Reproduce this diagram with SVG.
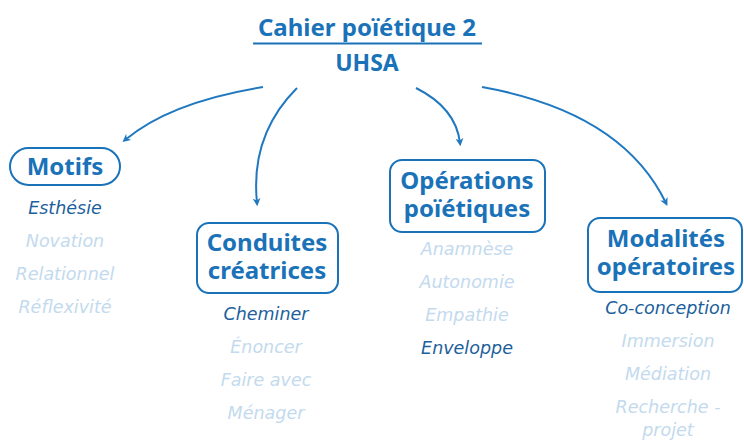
<svg xmlns="http://www.w3.org/2000/svg" width="744" height="441" viewBox="0 0 744 441">
<style>
.t{font-family:"Noto Sans","Liberation Sans",sans-serif;font-weight:bold;fill:#1a72b8;text-anchor:middle}
.h{font-family:"Noto Sans","Liberation Sans",sans-serif;font-weight:bold;font-size:24px;fill:#1a72b8;text-anchor:middle}
.box{fill:#fff;stroke:#1a72b8;stroke-width:2}
.i{font-family:"DejaVu Sans","Noto Sans",sans-serif;font-style:italic;font-size:17.5px;text-anchor:middle}
.d{fill:#1d5f9c}
.l{fill:#c3daee}
.c{fill:none;stroke:#2079c0;stroke-width:2;marker-end:url(#ah)}
</style>
<defs>
<marker id="ah" viewBox="0 0 10 10" refX="6" refY="5" markerWidth="4" markerHeight="4" orient="auto" markerUnits="strokeWidth">
<path d="M0,0 L10,5 L0,10 L3,5 z" fill="#2079c0"/>
</marker>
</defs>
<rect width="744" height="441" fill="#fff"/>
<g id="title">
<text class="t" x="367" y="36" font-size="24">Cahier poïétique 2</text>
<line x1="253" y1="43.5" x2="482" y2="43.5" stroke="#1a72b8" stroke-width="2"/>
<text class="t" x="367" y="71" font-size="23">UHSA</text>
</g>
<g id="connectors">
<path class="c" d="M263,87 Q170,102 125,140"/>
<path class="c" d="M297,88 Q250,135 257,203"/>
<path class="c" d="M416,88 Q456,108 460,143"/>
<path class="c" d="M482,87 Q622,112 666,203"/>
</g>
<g id="motifs">
<rect class="box" x="10" y="148" width="110" height="37" rx="18.5"/>
<text class="h" x="65" y="175">Motifs</text>
<text class="i d" x="65" y="214">Esthésie</text>
<text class="i l" x="65" y="247">Novation</text>
<text class="i l" x="65" y="280">Relationnel</text>
<text class="i l" x="65" y="313">Réflexivité</text>
</g>
<g id="conduites">
<rect class="box" x="197" y="223" width="141" height="70" rx="12"/>
<text class="h" x="267" y="251">Conduites</text>
<text class="h" x="267" y="279">créatrices</text>
<text class="i d" x="266" y="320">Cheminer</text>
<text class="i l" x="266" y="353">Énoncer</text>
<text class="i l" x="266" y="386">Faire avec</text>
<text class="i l" x="266" y="419">Ménager</text>
</g>
<g id="operations">
<rect class="box" x="390" y="160" width="155" height="72" rx="12"/>
<text class="h" x="467" y="189">Opérations</text>
<text class="h" x="467" y="217">poïétiques</text>
<text class="i l" x="467" y="255">Anamnèse</text>
<text class="i l" x="467" y="288">Autonomie</text>
<text class="i l" x="467" y="321">Empathie</text>
<text class="i d" x="467" y="354">Enveloppe</text>
</g>
<g id="modalites">
<rect class="box" x="588" y="218" width="154" height="74" rx="12"/>
<text class="h" x="666" y="247">Modalités</text>
<text class="h" x="666" y="275">opératoires</text>
<text class="i d" x="668" y="314">Co-conception</text>
<text class="i l" x="668" y="347">Immersion</text>
<text class="i l" x="668" y="380">Médiation</text>
<text class="i l" x="668" y="413">Recherche -</text>
<text class="i l" x="668" y="436">projet</text>
</g>
</svg>
